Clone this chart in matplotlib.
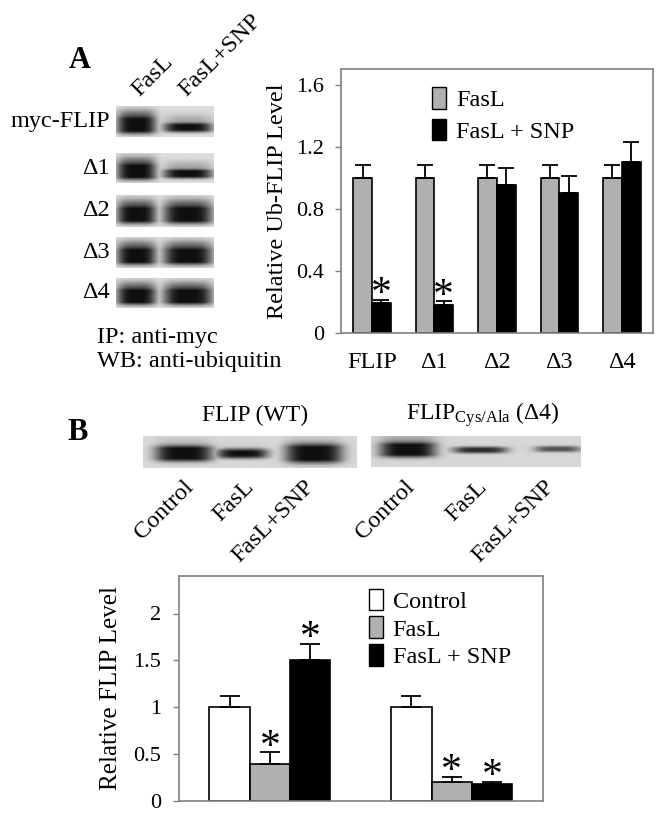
import numpy as np
import matplotlib
matplotlib.use("Agg")
import matplotlib.pyplot as plt
from matplotlib.patches import Patch

plt.rcParams['font.family'] = ['Liberation Serif', 'DejaVu Serif']
plt.rcParams['mathtext.fontset'] = 'custom'
plt.rcParams['mathtext.rm'] = 'Liberation Serif'
plt.rcParams['mathtext.it'] = 'Liberation Serif:italic'

# ---------------- data ----------------
a_categories = ["FLIP", "Δ1", "Δ2", "Δ3", "Δ4"]
a_fasl = [1.0, 1.0, 1.0, 1.0, 1.0]
a_fasl_err = [0.08, 0.08, 0.08, 0.08, 0.08]
a_fasl_snp = [0.19, 0.18, 0.95, 0.90, 1.10]
a_fasl_snp_err = [0.025, 0.025, 0.11, 0.11, 0.13]
a_star = [True, True, False, False, False]
a_yticks = [0, 0.4, 0.8, 1.2, 1.6]
a_yticklabels = ["0", "0.4", "0.8", "1.2", "1.6"]

b_groups = ["FLIP (WT)", "FLIP Cys/Ala (Δ4)"]
b_control = [1.0, 1.0]
b_control_err = [0.12, 0.12]
b_fasl = [0.40, 0.20]
b_fasl_err = [0.12, 0.06]
b_fasl_snp = [1.50, 0.18]
b_fasl_snp_err = [0.18, 0.025]
b_star_fasl = [True, True]
b_star_snp = [True, True]
b_yticks = [0, 0.5, 1, 1.5, 2]
b_yticklabels = ["0", "0.5", "1", "1.5", "2"]

# blot band intensities (relative darkness)
blotA_rows = ["myc-FLIP", "Δ1", "Δ2", "Δ3", "Δ4"]
blotA_lanes = ["FasL", "FasL+SNP"]
blotA_intensity = [[1.0, 0.8], [1.0, 0.85], [1.0, 1.0], [1.0, 1.0], [1.0, 1.0]]
blotB_lanes = ["Control", "FasL", "FasL+SNP"]
blotB_wt_intensity = [1.0, 0.75, 1.0]
blotB_d4_intensity = [1.0, 0.65, 0.5]

W, H = 661, 819
fig = plt.figure(figsize=(W / 100, H / 100), dpi=100)
fig.patch.set_facecolor('white')


def px_axes(x0, y0, x1, y1):
    return fig.add_axes([x0 / W, 1 - y1 / H, (x1 - x0) / W, (y1 - y0) / H])


def fx(x):
    return x / W


def fy(y):
    return 1 - y / H


def blot_image(lanes, intensities, bg, nx=300, ny=80):
    """lanes: list of (center_x, half_width, center_y, half_thickness, smear)."""
    xs = np.linspace(0, 1, nx)
    ys = np.linspace(0, 1, ny)
    X, Y = np.meshgrid(xs, ys)
    dark = np.zeros((ny, nx))
    for (cx, hw, cy, th, sm), inten in zip(lanes, intensities):
        hx = np.exp(-np.abs((X - cx) / hw) ** 4)
        core = np.exp(-np.abs((Y - cy) / th) ** 3)
        smear = sm * np.exp(-((Y - (cy - th - 0.1)) / 0.2) ** 2)
        d = np.clip(inten * (1.35 * core + smear), 0, 1.0) * hx
        dark = np.maximum(dark, d)
    img = bg - dark * (bg - 0.06)
    return np.clip(img, 0, 1)


# ---------------- Panel A blots ----------------
fig.text(fx(80), fy(60), "A", fontsize=22, fontweight='bold', ha='center', va='center')
rowsA = [(106, 137), (153, 183), (195, 227), (237, 268), (278, 308)]
rowlabel_y = [122, 168, 211, 252, 293]
for (y0, y1), lab, inten, ly in zip(rowsA, blotA_rows, blotA_intensity, rowlabel_y):
    ax = px_axes(116, y0, 214, y1)
    weak = inten[1] < 0.9
    lanes = [(0.21, 0.2, 0.64, 0.25, 0.55),
             (0.735, 0.25, 0.7 if weak else 0.64, 0.15 if weak else 0.25,
              0.3 if weak else 0.55)]
    img = blot_image(lanes, inten, 0.87)
    ax.imshow(img, cmap='gray', vmin=0, vmax=1, aspect='auto', interpolation='bilinear')
    ax.set_axis_off()
    fig.text(fx(110), fy(ly), lab, fontsize=17.5, ha='right', va='center')

for lab, x in zip(blotA_lanes, [143, 190]):
    fig.text(fx(x), fy(101), lab, fontsize=17.5, rotation=45, rotation_mode='anchor',
             ha='left', va='bottom')

fig.text(fx(97), fy(338), "IP: anti-myc", fontsize=17.5, ha='left', va='center')
fig.text(fx(97), fy(362), "WB: anti-ubiquitin", fontsize=17.5, ha='left', va='center')

# ---------------- Panel A chart ----------------
axA = px_axes(340.7, 69, 653, 333)
xA = np.arange(len(a_categories))
bw = 0.30
ekwA = dict(ecolor='black', elinewidth=1.3, capsize=6, capthick=1.3)
axA.bar(xA - bw / 2, a_fasl, bw, color='#b0b0b0', edgecolor='black', linewidth=1.2,
        yerr=[np.zeros(5), a_fasl_err], error_kw=ekwA, label='FasL', zorder=2)
axA.bar(xA + bw / 2, a_fasl_snp, bw, color='black', edgecolor='black', linewidth=1.2,
        yerr=[np.zeros(5), a_fasl_snp_err], error_kw=ekwA, label='FasL + SNP', zorder=2)
for i, s in enumerate(a_star):
    if s:
        axA.annotate("*", (xA[i] + bw / 2, a_fasl_snp[i] + a_fasl_snp_err[i]),
                     xytext=(0, -4), textcoords='offset points', ha='center',
                     va='baseline', fontsize=30)
axA.set_xlim(-0.5, 4.5)
axA.set_ylim(0, 1.7)
axA.set_yticks(a_yticks)
axA.set_yticklabels(a_yticklabels, fontsize=16)
axA.set_xticks(xA)
axA.set_xticklabels(a_categories, fontsize=17.5)
axA.tick_params(axis='x', length=0, pad=14)
axA.tick_params(axis='y', length=4, width=1, color='#808080', pad=8)
for sp in axA.spines.values():
    sp.set_color('#808080')
    sp.set_linewidth(1.2)
axA.set_ylabel("Relative Ub-FLIP Level", fontsize=17.5, labelpad=6)
axA.legend(handles=[Patch(facecolor='#b0b0b0', edgecolor='black', label='FasL'),
                    Patch(facecolor='black', edgecolor='black', label='FasL + SNP')],
           loc='upper left', bbox_to_anchor=(0.235, 1.0), frameon=False, fontsize=17.5,
           handlelength=0.58, handleheight=1.0, handletextpad=0.4, labelspacing=0.3,
           borderaxespad=0.35)

# ---------------- Panel B blots ----------------
fig.text(fx(78), fy(432), "B", fontsize=22, fontweight='bold', ha='center', va='center')
fig.text(fx(255), fy(415), "FLIP (WT)", fontsize=17, ha='center', va='center')
fig.text(fx(483), fy(415), r"FLIP$_{\mathrm{Cys/Ala}}$ (Δ4)", fontsize=17, ha='center',
         va='center')

axb1 = px_axes(142.7, 436, 356.7, 467.7)
lanes_wt = [(0.19, 0.135, 0.55, 0.24, 0.12),
            (0.465, 0.12, 0.55, 0.16, 0.05),
            (0.80, 0.135, 0.55, 0.29, 0.12)]
img1 = blot_image(lanes_wt, blotB_wt_intensity, 0.85)
axb1.imshow(img1, cmap='gray', vmin=0, vmax=1, aspect='auto', interpolation='bilinear')
axb1.set_axis_off()

axb2 = px_axes(370.7, 436, 580, 466.7)
lanes_d4 = [(0.175, 0.135, 0.45, 0.23, 0.25),
            (0.52, 0.13, 0.45, 0.11, 0.0),
            (0.89, 0.11, 0.42, 0.1, 0.0)]
img2 = blot_image(lanes_d4, blotB_d4_intensity, 0.84)
axb2.imshow(img2, cmap='gray', vmin=0, vmax=1, aspect='auto', interpolation='bilinear')
axb2.set_axis_off()

for lab, x in zip(blotB_lanes, [183, 243, 304]):
    fig.text(fx(x), fy(476), lab, fontsize=17.5, rotation=45, rotation_mode='anchor',
             ha='right', va='top')
for lab, x in zip(blotB_lanes, [404, 476, 544]):
    fig.text(fx(x), fy(476), lab, fontsize=17.5, rotation=45, rotation_mode='anchor',
             ha='right', va='top')

# ---------------- Panel B chart ----------------
axB = px_axes(179, 576, 542.7, 801)
xB = np.arange(len(b_groups))
bwB = 0.222
ekw = dict(ecolor='black', elinewidth=1.3, capsize=7, capthick=1.3)
axB.bar(xB - bwB, b_control, bwB, color='white', edgecolor='black', linewidth=1.2,
        yerr=[np.zeros(2), b_control_err], error_kw=ekw, zorder=2)
axB.bar(xB, b_fasl, bwB, color='#b0b0b0', edgecolor='black', linewidth=1.2,
        yerr=[np.zeros(2), b_fasl_err], error_kw=ekw, zorder=2)
axB.bar(xB + bwB, b_fasl_snp, bwB, color='black', edgecolor='black', linewidth=1.2,
        yerr=[np.zeros(2), b_fasl_snp_err], error_kw=ekw, zorder=2)
for i in range(2):
    if b_star_fasl[i]:
        axB.annotate("*", (xB[i], b_fasl[i] + b_fasl_err[i]), xytext=(0, -4),
                     textcoords='offset points', ha='center', va='baseline', fontsize=30)
    if b_star_snp[i]:
        axB.annotate("*", (xB[i] + bwB, b_fasl_snp[i] + b_fasl_snp_err[i]), xytext=(0, -4),
                     textcoords='offset points', ha='center', va='baseline', fontsize=30)
axB.set_xlim(-0.5, 1.5)
axB.set_ylim(0, 2.4)
axB.set_yticks(b_yticks)
axB.set_yticklabels(b_yticklabels, fontsize=16)
axB.set_xticks([])
axB.tick_params(axis='y', length=4, width=1, color='#808080', pad=9)
for sp in axB.spines.values():
    sp.set_color('#808080')
    sp.set_linewidth(1.2)
axB.set_ylabel("Relative FLIP Level", fontsize=18, labelpad=8)
axB.legend(handles=[Patch(facecolor='white', edgecolor='black', label='Control'),
                    Patch(facecolor='#b0b0b0', edgecolor='black', label='FasL'),
                    Patch(facecolor='black', edgecolor='black', label='FasL + SNP')],
           loc='upper left', bbox_to_anchor=(0.475, 1.02), frameon=False, fontsize=17.5,
           handlelength=0.58, handleheight=1.0, handletextpad=0.4, labelspacing=0.15,
           borderaxespad=0.3)

fig.savefig("out.png", dpi=100)
